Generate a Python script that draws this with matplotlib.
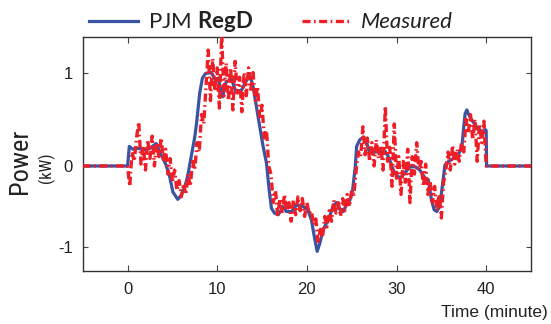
import numpy as np
import matplotlib
matplotlib.use('Agg')
import matplotlib.pyplot as plt
from matplotlib import font_manager as fm
from matplotlib.lines import Line2D

# ---------------- data ----------------
regd_t = [-5, 0, 0.05, 0.2, 0.6, 1.15, 1.9, 2.5, 3.2, 3.75, 4.3, 4.7, 5.06, 5.6, 6.0,
          6.4, 6.7, 7.1, 7.5, 7.7, 8.05, 8.35, 8.7, 9.35, 9.8, 10.1, 10.6, 11.0, 11.6,
          12.1, 12.7, 13.3, 13.6, 14.0, 14.4, 14.75, 15.1, 15.5, 15.8, 16.05, 16.4,
          16.8, 17.35, 17.7, 18.3, 18.85, 19.6, 20.1, 20.5, 20.9, 21.15, 21.45, 21.8,
          22.2, 22.6, 22.9, 23.3, 23.7, 24.05, 24.4, 24.8, 25.1, 25.4, 25.55, 25.9,
          26.3, 26.7, 27.0, 27.6, 28.2, 28.7, 29.1, 29.5, 29.8, 30.4, 30.9, 31.5,
          32.1, 32.6, 33.2, 33.55, 33.9, 34.2, 34.5, 34.8, 35.05, 35.4, 35.8, 36.35,
          36.9, 37.3, 37.5, 37.65, 37.85, 38.0, 38.4, 38.8, 39.1, 39.7, 39.9, 40.0,
          40.05, 45]
regd_p = [0, 0, 0.05, 0.21, 0.18, 0.19, 0.17, 0.19, 0.24, 0.12, 0.01, -0.13, -0.32,
          -0.41, -0.36, -0.25, -0.13, 0.10, 0.31, 0.46, 0.78, 0.94, 0.99, 1.0, 0.92,
          0.94, 0.74, 0.90, 0.93, 0.79, 0.81, 0.92, 0.99, 0.85, 0.62, 0.42, 0.22,
          0.03, -0.30, -0.52, -0.58, -0.60, -0.50, -0.56, -0.56, -0.48, -0.50, -0.54,
          -0.66, -0.91, -1.05, -0.95, -0.79, -0.70, -0.60, -0.50, -0.45, -0.54, -0.56,
          -0.48, -0.42, -0.30, -0.01, 0.21, 0.28, 0.31, 0.24, 0.14, 0.15, 0.15, 0.16,
          0.10, -0.01, -0.09, -0.15, -0.09, -0.01, -0.01, -0.05, -0.15, -0.17, -0.42,
          -0.54, -0.56, -0.50, -0.30, 0.01, 0.05, 0.08, 0.12, 0.21, 0.42, 0.56, 0.60,
          0.56, 0.49, 0.44, 0.39, 0.37, 0.39, 0.38, 0, 0]

# measured power, sampled every 0.25 min from 0 to 40 min
meas_start, meas_step = 0.0, 0.25
meas_p = [0.00, -0.25, 0.15, 0.05, 0.30, 0.47, 0.02, 0.22, -0.05, 0.28,
          0.08, 0.32, 0.00, 0.25, 0.10, 0.30, 0.05, 0.18, -0.10, 0.08,
          -0.20, -0.05, -0.30, -0.18, -0.38, -0.22, -0.35, -0.10, -0.25, 0.05,
          -0.05, 0.25, 0.15, 0.55, 0.45, 0.85, 1.24, 0.70, 1.15, 0.80,
          1.05, 0.62, 1.42, 0.75, 1.10, 0.70, 1.05, 0.60, 1.12, 0.78,
          0.95, 0.58, 1.00, 0.75, 1.05, 0.82, 1.00, 0.70, 0.85, 0.50,
          0.65, 0.30, 0.38, 0.00, -0.10, -0.45, -0.30, -0.62, -0.40, -0.58,
          -0.35, -0.55, -0.45, -0.68, -0.42, -0.60, -0.38, -0.55, -0.40, -0.62,
          -0.45, -0.58, -0.55, -0.72, -0.65, -0.95, -0.78, -0.88, -0.62, -0.75,
          -0.55, -0.68, -0.42, -0.58, -0.45, -0.62, -0.40, -0.55, -0.35, -0.50,
          -0.30, -0.35, -0.05, 0.15, 0.10, 0.42, 0.12, 0.30, 0.05, 0.25,
          0.00, 0.28, 0.08, 0.22, -0.05, 0.64, 0.05, 0.20, -0.25, 0.45,
          -0.15, 0.10, -0.35, 0.05, -0.20, 0.18, -0.45, 0.10, -0.10, 0.25,
          -0.05, 0.05, -0.25, 0.02, -0.35, -0.18, -0.45, -0.25, -0.55, -0.35,
          -0.64, -0.20, -0.05, 0.15, -0.05, 0.22, 0.02, 0.18, 0.05, 0.25,
          0.15, 0.50, 0.35, 0.55, 0.28, 0.50, 0.05, 0.45, 0.25, 0.48,
          0.00]
meas_lead_t, meas_lead_p = [-5.0], [0.0]
meas_tail_t, meas_tail_p = [45.0], [0.0]

xticks = [0, 10, 20, 30, 40]
xticklabels = ['0', '10', '20', '30', '40']
yticks = [-1, 0, 1]
yticklabels = ['-1', '0', '1']
xlim = (-5, 45)
ylim = (-1.288, 1.38)

BLUE = '#3a54a4'
RED = '#ee1d26'
DASH = (0, (5.8, 2.5, 1.2, 2.5))

# ---------------- style ----------------
LEGFONT = 'Lato'
plt.rcParams['lines.scale_dashes'] = False
plt.rcParams['mathtext.fontset'] = 'custom'
plt.rcParams['mathtext.rm'] = LEGFONT
plt.rcParams['mathtext.bf'] = LEGFONT + ':bold'
plt.rcParams['axes.unicode_minus'] = False

# pick a condensed sans face for the y label if one is installed
cond_fp = None
pref = ['Liberation Sans Narrow', 'Noto Sans Condensed', 'Roboto Condensed',
        'Open Sans Condensed', 'DejaVu Sans Condensed']
ttf = fm.fontManager.ttflist
for p in pref:
    for f in ttf:
        if f.name == p and f.style == 'normal' and f.weight in (400, 'normal', 'regular'):
            cond_fp = f.fname
            break
    if cond_fp:
        break
if cond_fp is None:
    for f in ttf:
        if (f.stretch in ('condensed', 'semi-condensed', 'extra-condensed') or
                'Condensed' in f.fname or 'Narrow' in f.fname) and \
                f.style == 'normal' and f.weight in (400, 'normal', 'regular') and \
                'Sans' in f.name and 'Mono' not in f.name:
            cond_fp = f.fname
            break


def cprops(size):
    if cond_fp:
        return dict(fontproperties=fm.FontProperties(fname=cond_fp, size=size))
    return dict(fontproperties=fm.FontProperties(family='Liberation Sans', size=size * 0.85))


SANS = 'Liberation Sans'

W, H = 551, 324
fig = plt.figure(figsize=(W / 100, H / 100), dpi=100)
L, R, T, B = 82.7, 531.0, 37.0, 270.7
ax = fig.add_axes([L / W, 1 - B / H, (R - L) / W, (B - T) / H])

NEG = 81.3 / 93.5


def fwd(y):
    y = np.asarray(y, float)
    return np.where(y >= 0, y, y * NEG)


def inv(u):
    u = np.asarray(u, float)
    return np.where(u >= 0, u, u / NEG)


ax.set_yscale('function', functions=(fwd, inv))

meas_t = meas_start + meas_step * np.arange(len(meas_p))
mt = np.concatenate([meas_lead_t, meas_t, meas_tail_t])
mp = np.concatenate([meas_lead_p, meas_p, meas_tail_p])

ax.plot(regd_t, regd_p, color=BLUE, lw=2.3, zorder=2, solid_joinstyle='round')
ax.plot(mt, mp, color=RED, lw=2.4, ls=DASH, zorder=3)

ax.set_xlim(*xlim)
ax.set_ylim(*ylim)
ax.set_xticks(xticks)
ax.set_xticklabels(xticklabels, fontfamily=SANS, fontsize=12)
ax.set_yticks(yticks)
ax.set_yticklabels(yticklabels, fontfamily=SANS, fontsize=12)
ax.minorticks_off()
ax.tick_params(axis='x', direction='in', length=4.5, width=0.8, color='#444444',
               top=True, bottom=True, pad=8, labelcolor='#222222')
ax.tick_params(axis='y', direction='in', length=3.5, width=0.8, color='#444444',
               left=True, right=True, pad=7, labelcolor='#222222')
for s in ax.spines.values():
    s.set_linewidth(1.0)
    s.set_color('#333333')

ax.set_xlabel('Time (minute)', fontfamily=SANS, fontsize=12.5, ha='right',
              va='center', color='#222222')
ax.xaxis.set_label_coords((548 - L) / (R - L), -(313 - B) / (B - T))

fig.text(20 / W, 1 - 161 / H, 'Power', rotation=90, ha='center', va='center',
         color='#222222', **cprops(19))
fig.text(46 / W, 1 - 168 / H, '(kW)', rotation=90, ha='center', va='center',
         color='#222222', **cprops(12))

handles = [Line2D([], [], color=BLUE, lw=2.3),
           Line2D([], [], color=RED, lw=2.4, ls=DASH)]
leg = fig.legend(handles, [r'PJM $\mathbf{RegD}$', 'Measured'], loc='center left',
                 bbox_to_anchor=(89 / W, 1 - 22 / H), ncol=2, frameon=False,
                 prop={'family': LEGFONT, 'size': 16},
                 handlelength=2.2, handletextpad=0.45, columnspacing=2.2,
                 borderpad=0, borderaxespad=0)
for t in leg.get_texts():
    t.set_color('#222222')
leg.get_texts()[1].set_fontstyle('italic')

fig.savefig('out.png', dpi=100)
